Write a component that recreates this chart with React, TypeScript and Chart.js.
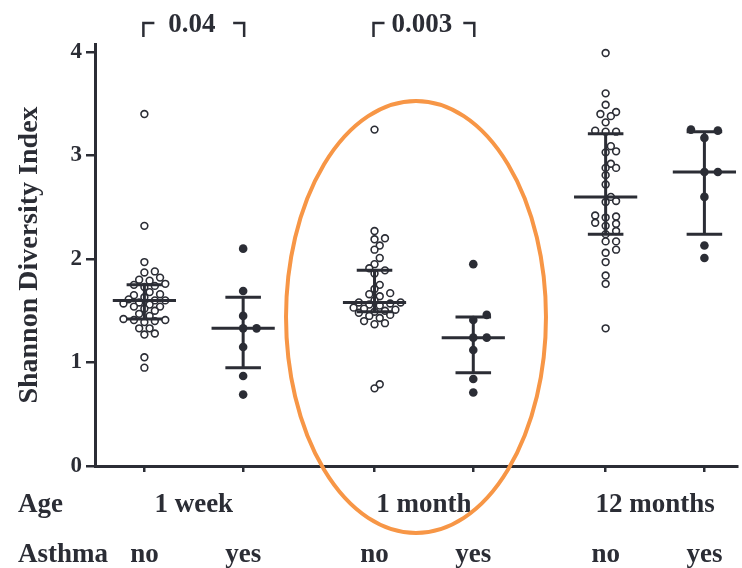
import React, { useEffect, useRef } from 'react';
import { Chart, registerables } from 'chart.js';

Chart.register(...registerables);

// ---------- data ----------
const asthmaLabels = ['no', 'yes', 'no', 'yes', 'no', 'yes'];
const ageLabels = ['1 week', '1 month', '12 months'];
const groupPositions = [0, 1, 2.33, 3.33, 4.67, 5.67];
const yTicks = [0, 1, 2, 3, 4];

const week1No = [3.40, 2.32, 1.97, 1.88, 1.87, 1.82, 1.80, 1.79, 1.76, 1.75, 1.74, 1.73, 1.68, 1.66, 1.65, 1.63, 1.61, 1.60, 1.60, 1.58, 1.57, 1.56, 1.54, 1.54, 1.52, 1.50, 1.47, 1.45, 1.42, 1.41, 1.41, 1.40, 1.39, 1.33, 1.33, 1.28, 1.27, 1.05, 0.95];
const week1Yes = [2.10, 1.69, 1.45, 1.33, 1.33, 1.15, 0.87, 0.69];
const month1No = [3.25, 2.27, 2.20, 2.19, 2.13, 2.09, 2.01, 1.95, 1.91, 1.89, 1.86, 1.75, 1.71, 1.67, 1.66, 1.64, 1.60, 1.58, 1.58, 1.57, 1.56, 1.55, 1.53, 1.52, 1.51, 1.50, 1.49, 1.48, 1.46, 1.45, 1.43, 1.40, 1.38, 1.37, 0.79, 0.75];
const month1Yes = [1.95, 1.46, 1.41, 1.24, 1.24, 1.12, 0.84, 0.71];
const month12No = [3.99, 3.60, 3.49, 3.42, 3.40, 3.38, 3.32, 3.24, 3.23, 3.23, 3.09, 3.04, 3.03, 2.92, 2.88, 2.88, 2.81, 2.72, 2.60, 2.56, 2.55, 2.42, 2.41, 2.40, 2.35, 2.34, 2.32, 2.27, 2.24, 2.17, 2.17, 2.09, 2.06, 1.97, 1.84, 1.76, 1.33];
const month12Yes = [3.25, 3.24, 3.17, 2.84, 2.84, 2.60, 2.13, 2.01];

const medians = [1.60, 1.33, 1.58, 1.24, 2.60, 2.84];
const upperQuartiles = [1.75, 1.63, 1.89, 1.44, 3.21, 3.23];
const lowerQuartiles = [1.42, 0.95, 1.49, 0.90, 2.24, 2.24];

const pValues = ['0.04', '0.003'];
const comparedPairs = [[0, 1], [2, 3]];

const groups = [week1No, week1Yes, month1No, month1Yes, month12No, month12Yes];

// ---------- styles ----------
const INK = '#2b2d35';
const ORANGE = '#f79646';
const SERIF = "'Liberation Serif', 'Times New Roman', serif";
const X_MIN = -0.5;
const X_MAX = 6.0;
const Y_MAX = 4.077;
const PX_PER_X = 99.2;
const PX_PER_Y = 103.5;

// beeswarm layout: offsets (in x units) so that markers do not overlap too much
function beeswarm(values: number[], stepPx: number, minDistPx: number): number[] {
  const order = values.map((_, i) => i).sort((a, b) => values[a] - values[b]);
  const placed: { dx: number; py: number }[] = [];
  const out = new Array(values.length).fill(0);
  for (const i of order) {
    const py = values[i] * PX_PER_Y;
    for (let k = 0; k < 80; k++) {
      const m = Math.ceil(k / 2) * (k % 2 === 1 ? 1 : -1);
      const dx = m * stepPx;
      if (placed.every((p) => Math.hypot(p.dx - dx, p.py - py) >= minDistPx)) {
        placed.push({ dx, py });
        out[i] = dx / PX_PER_X;
        break;
      }
    }
  }
  return out;
}

const overlayPlugin = {
  id: 'overlay',
  afterDatasetsDraw(chart: any) {
    const { ctx, scales } = chart;
    const xs = scales.x;
    const ys = scales.y;
    ctx.save();
    ctx.strokeStyle = INK;
    ctx.lineWidth = 3;
    ctx.lineCap = 'butt';
    groupPositions.forEach((pos, g) => {
      const cx = xs.getPixelForValue(pos);
      const medW = xs.getPixelForValue(pos + 0.32) - cx;
      const capW = xs.getPixelForValue(pos + 0.18) - cx;
      const yMed = ys.getPixelForValue(medians[g]);
      const yHi = ys.getPixelForValue(upperQuartiles[g]);
      const yLo = ys.getPixelForValue(lowerQuartiles[g]);
      ctx.beginPath();
      ctx.moveTo(cx, yHi);
      ctx.lineTo(cx, yLo);
      ctx.moveTo(cx - medW, yMed);
      ctx.lineTo(cx + medW, yMed);
      ctx.moveTo(cx - capW, yHi);
      ctx.lineTo(cx + capW, yHi);
      ctx.moveTo(cx - capW, yLo);
      ctx.lineTo(cx + capW, yLo);
      ctx.stroke();
    });
    ctx.restore();
  },
  afterDraw(chart: any) {
    const { ctx, scales, chartArea } = chart;
    const xs = scales.x;
    const ys = scales.y;
    ctx.save();
    ctx.fillStyle = INK;
    ctx.strokeStyle = INK;
    ctx.font = `bold 27px ${SERIF}`;
    ctx.textBaseline = 'alphabetic';

    // category rows
    const ageBase = chartArea.bottom + 46;
    const asthmaBase = chartArea.bottom + 96;
    ctx.textAlign = 'left';
    ctx.fillText('Age', 18, ageBase);
    ctx.fillText('Asthma', 18, asthmaBase);
    ctx.textAlign = 'center';
    ageLabels.forEach((lab, i) => {
      const mid = (groupPositions[2 * i] + groupPositions[2 * i + 1]) / 2;
      ctx.fillText(lab, xs.getPixelForValue(mid), ageBase);
    });
    asthmaLabels.forEach((lab, g) => {
      ctx.fillText(lab, xs.getPixelForValue(groupPositions[g]), asthmaBase);
    });

    // significance brackets
    ctx.lineWidth = 2.5;
    const bTop = chartArea.top - 21;
    const bBot = chartArea.top - 7;
    comparedPairs.forEach(([a, b], i) => {
      const xa = xs.getPixelForValue(groupPositions[a]) - 1;
      const xb = xs.getPixelForValue(groupPositions[b]) + 1;
      ctx.beginPath();
      ctx.moveTo(xa, bBot);
      ctx.lineTo(xa, bTop);
      ctx.lineTo(xa + 11, bTop);
      ctx.moveTo(xb - 11, bTop);
      ctx.lineTo(xb, bTop);
      ctx.lineTo(xb, bBot);
      ctx.stroke();
      ctx.fillText(pValues[i], (xa + xb) / 2 - 2, chartArea.top - 12);
    });

    // highlight ellipse around the 1 month pair
    const ecx = xs.getPixelForValue(2.75);
    const ecy = ys.getPixelForValue(1.44);
    const erx = xs.getPixelForValue(2.75 + 1.316) - ecx;
    const ery = ecy - ys.getPixelForValue(1.44 + 2.087);
    ctx.strokeStyle = ORANGE;
    ctx.lineWidth = 4;
    ctx.beginPath();
    ctx.ellipse(ecx, ecy, erx, ery, 0, 0, Math.PI * 2);
    ctx.stroke();
    ctx.restore();
  },
};

export default function App() {
  const canvasRef = useRef<HTMLCanvasElement | null>(null);

  useEffect(() => {
    const canvas = canvasRef.current;
    if (!canvas) return;
    const datasets = groups.map((vals, g) => {
      const isYes = g % 2 === 1;
      const offs = isYes ? beeswarm(vals, 13.5, 9.5) : beeswarm(vals, 5.25, 6.6);
      return {
        type: 'scatter' as const,
        label: `${ageLabels[Math.floor(g / 2)]} ${asthmaLabels[g]}`,
        data: vals.map((v, i) => ({ x: groupPositions[g] + offs[i], y: v })),
        pointRadius: isYes ? 4.3 : 3.4,
        pointHoverRadius: isYes ? 4.3 : 3.4,
        pointBackgroundColor: isYes ? INK : '#ffffff',
        pointBorderColor: INK,
        pointBorderWidth: isYes ? 0 : 1.6,
        showLine: false,
      };
    });

    const chart = new Chart(canvas, {
      type: 'scatter',
      data: { datasets },
      options: {
        responsive: false,
        maintainAspectRatio: false,
        animation: false,
        layout: { padding: { top: 44, right: 2, left: 0, bottom: 0 } },
        plugins: { legend: { display: false }, tooltip: { enabled: false } },
        scales: {
          x: {
            type: 'linear',
            min: X_MIN,
            max: X_MAX,
            afterBuildTicks: (s: any) => {
              s.ticks = groupPositions.map((v) => ({ value: v }));
            },
            afterFit: (s: any) => {
              s.height = 102;
            },
            ticks: { display: false },
            grid: { drawOnChartArea: false, drawTicks: true, tickLength: 6, color: INK, lineWidth: 2.5 },
            border: { color: INK, width: 3 },
          },
          y: {
            type: 'linear',
            min: 0,
            max: Y_MAX,
            afterBuildTicks: (s: any) => {
              s.ticks = yTicks.map((v) => ({ value: v }));
            },
            afterFit: (s: any) => {
              s.width = 95;
            },
            ticks: {
              color: INK,
              padding: 4,
              font: { family: SERIF, size: 23, weight: 'bold' },
            },
            grid: { drawOnChartArea: false, drawTicks: true, tickLength: 9, color: INK, lineWidth: 2.5 },
            border: { color: INK, width: 3 },
            title: {
              display: true,
              text: 'Shannon Diversity Index',
              color: INK,
              font: { family: SERIF, size: 28, weight: 'bold' },
              padding: { top: 13, bottom: 0 },
            },
          },
        },
      } as any,
      plugins: [overlayPlugin],
    });
    return () => chart.destroy();
  }, []);

  return (
    <div style={{ position: 'absolute', left: 0, top: 0, width: 742, height: 568, background: '#ffffff' }}>
      <canvas ref={canvasRef} width={742} height={568} style={{ display: 'block' }} />
    </div>
  );
}
